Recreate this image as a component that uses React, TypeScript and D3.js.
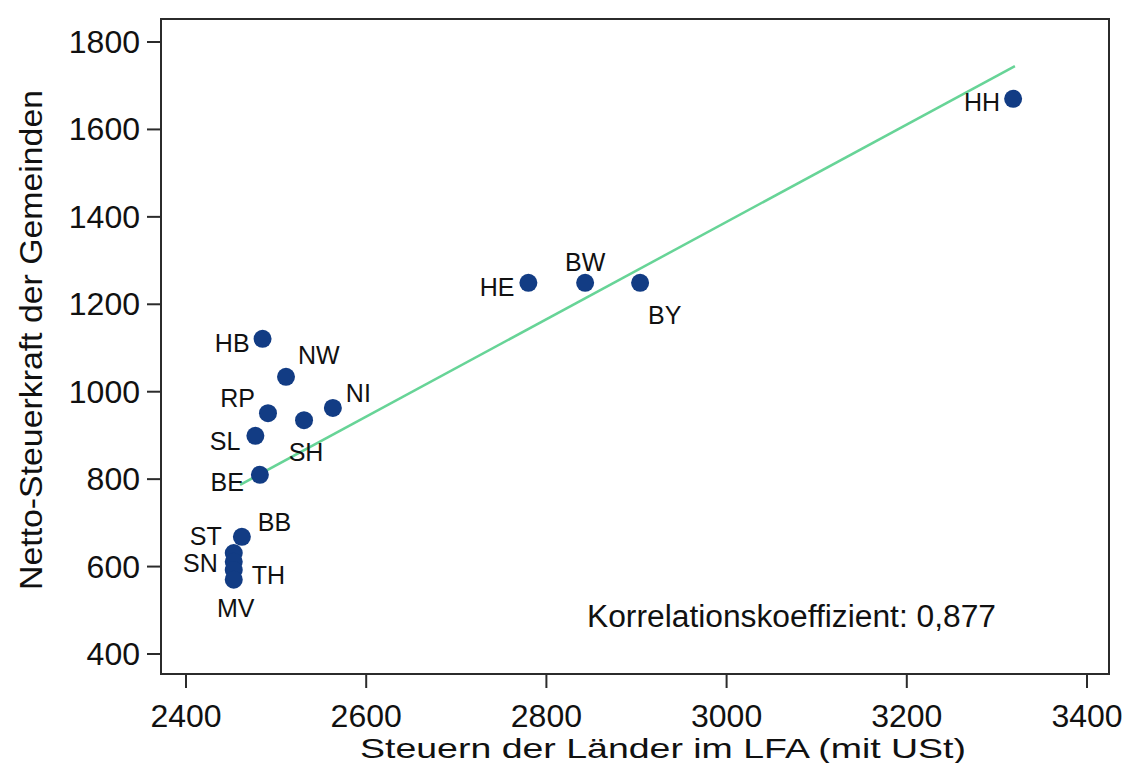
import * as d3 from "d3";

// Bundesländer
const states = ["HH", "HE", "BW", "BY", "HB", "NW", "NI", "SH", "RP", "SL", "BE", "BB", "ST", "SN", "TH", "MV"];
// Steuern der Länder im LFA (mit USt)
const steuernLaender = [3318, 2780, 2843, 2904, 2485, 2511, 2563, 2531, 2491, 2477, 2482, 2462, 2453, 2453, 2453, 2453];
// Netto-Steuerkraft der Gemeinden
const steuerkraftGemeinden = [1670, 1249, 1249, 1249, 1121, 1034, 963, 935, 951, 899, 810, 668, 631, 611, 592, 570];

// linear fit endpoints
const fitX = [2460, 3320];
const fitY = [787, 1745];

const xTicks = [2400, 2600, 2800, 3000, 3200, 3400];
const yTicks = [400, 600, 800, 1000, 1200, 1400, 1600, 1800];

const correlation = "0,877";

// marker label placement: [anchor, dx, dy]
const labelPlacement: Record<string, [string, number, number]> = {
  HH: ["end", -13, 12],
  HE: ["end", -14, 13],
  BW: ["middle", 0, -12],
  BY: ["start", 8, 41],
  HB: ["end", -13, 13],
  NW: ["start", 12, -13],
  NI: ["start", 13, -6],
  SH: ["middle", 2, 41],
  RP: ["end", -13, -6],
  SL: ["end", -15, 14],
  BE: ["end", -16, 16],
  BB: ["start", 16, -6],
  ST: ["end", -12, -8],
  SN: ["end", -16, 10],
  TH: ["start", 18, 14],
  MV: ["middle", 2, 37],
};

const W = 1127;
const H = 763;
const box = { left: 161, top: 19, right: 1109, bottom: 674 };
const font = "'Liberation Sans', Arial, Helvetica, sans-serif";
const dotColor = "#123c84";
const fitColor = "#67d497";
const axisColor = "#2b2b2b";
const textColor = "#111";

export default function App() {
  const x = d3.scaleLinear().domain([2400, 3400]).range([186, 1087]);
  const y = d3.scaleLinear().domain([400, 1800]).range([654, 42]);

  const line = d3
    .line<number>()
    .x((d) => x(d))
    .y((_, i) => y(fitY[i]));

  const points = states.map((s, i) => ({
    name: s,
    cx: x(steuernLaender[i]),
    cy: y(steuerkraftGemeinden[i]),
  }));

  return (
    <svg
      width={W}
      height={H}
      style={{ position: "absolute", left: 0, top: 0, background: "#fff" }}
      fontFamily={font}
    >
      <rect x={0} y={0} width={W} height={H} fill="#fff" />

      {/* frame */}
      <rect
        x={box.left}
        y={box.top}
        width={box.right - box.left}
        height={box.bottom - box.top}
        fill="none"
        stroke={axisColor}
        strokeWidth={2}
      />

      {/* y axis */}
      {yTicks.map((t) => (
        <g key={"y" + t}>
          <line x1={box.left - 14} x2={box.left} y1={y(t)} y2={y(t)} stroke={axisColor} strokeWidth={2} />
          <text x={140} y={y(t) + 11} textAnchor="end" fontSize={32} fill={textColor}>
            {t}
          </text>
        </g>
      ))}

      {/* x axis */}
      {xTicks.map((t) => (
        <g key={"x" + t}>
          <line x1={x(t)} x2={x(t)} y1={box.bottom} y2={box.bottom + 14} stroke={axisColor} strokeWidth={2} />
          <text x={x(t)} y={727} textAnchor="middle" fontSize={32} fill={textColor}>
            {t}
          </text>
        </g>
      ))}

      {/* axis titles */}
      <text
        x={663}
        y={758}
        textAnchor="middle"
        fontSize={28}
        fill={textColor}
        textLength={606}
        lengthAdjust="spacingAndGlyphs"
      >
        Steuern der Länder im LFA (mit USt)
      </text>
      <text
        transform={`translate(42, 340) rotate(-90)`}
        textAnchor="middle"
        fontSize={31}
        fill={textColor}
        textLength={500}
        lengthAdjust="spacingAndGlyphs"
      >
        Netto-Steuerkraft der Gemeinden
      </text>

      {/* fit line */}
      <path d={line(fitX) ?? ""} fill="none" stroke={fitColor} strokeWidth={2.5} />

      {/* points */}
      {points.map((p) => (
        <circle key={"c" + p.name} cx={p.cx} cy={p.cy} r={9} fill={dotColor} />
      ))}

      {/* labels */}
      {points.map((p) => {
        const [anchor, dx, dy] = labelPlacement[p.name];
        return (
          <text
            key={"l" + p.name}
            x={p.cx + dx}
            y={p.cy + dy}
            textAnchor={anchor}
            fontSize={25}
            fill={textColor}
          >
            {p.name}
          </text>
        );
      })}

      <text
        x={587}
        y={627}
        fontSize={31}
        fill={textColor}
        textLength={409}
        lengthAdjust="spacingAndGlyphs"
      >
        Korrelationskoeffizient: {correlation}
      </text>
    </svg>
  );
}
